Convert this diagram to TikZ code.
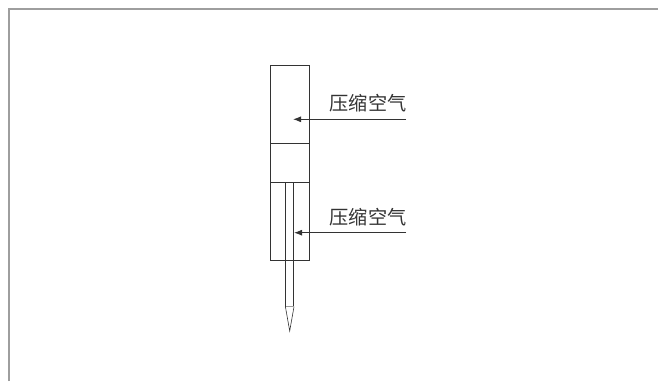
\documentclass[tikz,border=0pt]{standalone}
\usepackage{fontspec}
\newfontfamily\cjk{Noto Sans CJK SC}
\usetikzlibrary{arrows.meta}
\definecolor{framegrey}{gray}{0.62}
\definecolor{ink}{gray}{0.2}
\tikzset{
  frameline/.style={draw=framegrey,line width=1.1pt},
  part/.style={draw=ink,line width=0.85pt,line join=miter},
  needletip/.style={draw=ink,line width=0.6pt,line join=miter},
  airarrow/.style={draw=ink,line width=0.9pt,-{Latex[length=8pt,width=6pt]}},
  airlabel/.style={font=\cjk\fontsize{19.2}{20}\selectfont,text=ink,inner sep=0pt,anchor=center}
}
\begin{document}
\begin{tikzpicture}[x=1pt,y=-1pt]
\useasboundingbox (0,0) rectangle (658,381);
\fill[white] (0,0) rectangle (658,381);
\draw[frameline] (9,381) -- (9,9) -- (658,9);
% cylinder
\draw[part] (270,65.7) rectangle (309.3,260.3);
\draw[part] (270,143.7) -- (309.3,143.7);
\draw[part] (270,182.3) -- (309.3,182.3);
% rod and needle
\draw[part] (285.7,182.3) -- (285.7,306.7);
\draw[part] (293.7,182.3) -- (293.7,306.7);
\draw[needletip] (285.4,306.7) -- (289.7,331) -- (294,306.7);
\draw[draw=ink!50,line width=0.6pt] (285.7,306.7) -- (293.7,306.7);
% labels and arrows
\coordinate (inA) at (406,119.3);
\coordinate (tipA) at (293,119.3);
\coordinate (inB) at (406,232.7);
\coordinate (tipB) at (294,232.7);
\node[airlabel] (labA) at (368,103.5) {压缩空气};
\node[airlabel] (labB) at (368,217) {压缩空气};
\draw[airarrow] (inA) -- (tipA);
\draw[airarrow] (inB) -- (tipB);
\end{tikzpicture}
\end{document}
